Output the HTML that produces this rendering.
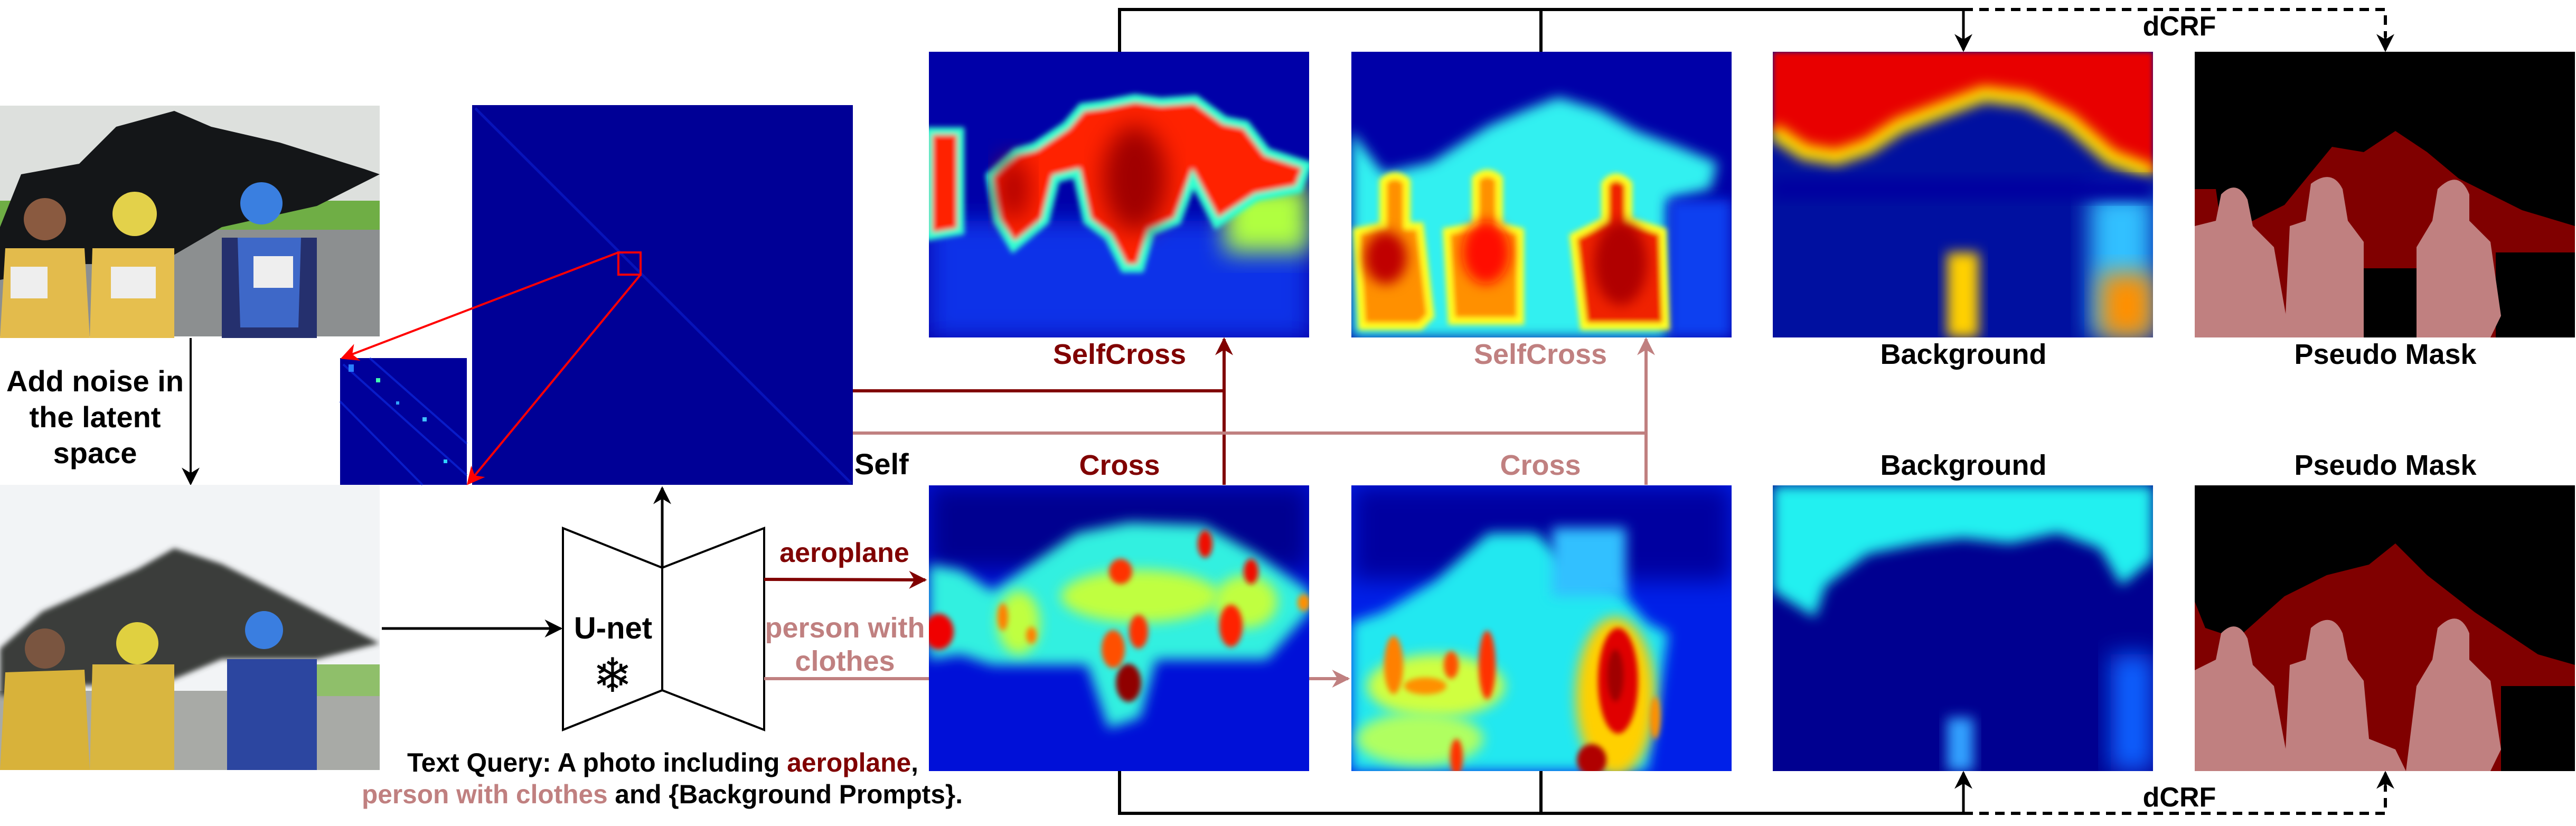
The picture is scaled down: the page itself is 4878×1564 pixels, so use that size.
<!DOCTYPE html>
<html><head><meta charset="utf-8"><style>
html,body{margin:0;padding:0;background:#fff;}
svg{display:block;}
text{font-family:"Liberation Sans",Arial,sans-serif;font-weight:bold;}
</style></head><body>
<svg width="4878" height="1564" viewBox="0 0 4878 1564" xmlns="http://www.w3.org/2000/svg">
<defs>
<filter id="b1" x="-30%" y="-30%" width="160%" height="160%"><feGaussianBlur stdDeviation="22"/></filter>
<filter id="b2" x="-30%" y="-30%" width="160%" height="160%"><feGaussianBlur stdDeviation="12"/></filter>
<filter id="b3" x="-30%" y="-30%" width="160%" height="160%"><feGaussianBlur stdDeviation="5"/></filter>
<marker id="akb" viewBox="0 0 10 10" markerWidth="34" markerHeight="34" refX="9" refY="5" orient="auto" markerUnits="userSpaceOnUse"><path d="M0,0 L10,5 L0,10 L3,5 z" fill="#000"/></marker>
<marker id="ar" viewBox="0 0 10 10" markerWidth="34" markerHeight="34" refX="9" refY="5" orient="auto" markerUnits="userSpaceOnUse"><path d="M0,0 L10,5 L0,10 L3,5 z" fill="#800000"/></marker>
<marker id="ap" viewBox="0 0 10 10" markerWidth="34" markerHeight="34" refX="9" refY="5" orient="auto" markerUnits="userSpaceOnUse"><path d="M0,0 L10,5 L0,10 L3,5 z" fill="#c08080"/></marker>
<marker id="arr" viewBox="0 0 10 10" markerWidth="34" markerHeight="34" refX="9" refY="5" orient="auto" markerUnits="userSpaceOnUse"><path d="M0,0 L10,5 L0,10 L3,5 z" fill="#f00"/></marker>
<clipPath id="c720"><rect x="0" y="0" width="720" height="541"/></clipPath>
<clipPath id="cph"><rect x="0" y="0" width="719" height="540"/></clipPath>
</defs>

<!-- Top photo -->
<g transform="translate(0,200)" clip-path="url(#cph)">
<rect width="719" height="437" fill="#dde0dd"/>
<rect y="180" width="719" height="60" fill="#6fae45"/>
<rect y="235" width="719" height="202" fill="#8c8f90"/>
<path d="M0,230 L40,130 L150,110 L220,40 L330,10 L400,40 L530,70 L690,120 L719,130 L600,190 L420,230 L300,300 L150,300 L0,330 z" fill="#141618"/>
<path d="M10,270 L160,270 L170,440 L0,440 z" fill="#e3bb4c"/>
<circle cx="85" cy="215" r="40" fill="#8a5a40"/>
<path d="M175,270 L330,270 L330,440 L170,440 z" fill="#e6bf4e"/>
<circle cx="255" cy="205" r="42" fill="#e3d14a"/>
<path d="M420,250 L600,250 L600,440 L420,440 z" fill="#25306e"/>
<path d="M450,250 L570,250 L565,420 L455,420 z" fill="#3e68c8"/>
<circle cx="495" cy="185" r="40" fill="#3a7fe0"/>
<rect x="20" y="305" width="70" height="60" fill="#eee"/><rect x="210" y="305" width="85" height="60" fill="#eee"/><rect x="480" y="285" width="75" height="60" fill="#eee"/>
</g>

<line x1="361" y1="640" x2="361" y2="916" stroke="#000" stroke-width="4" marker-end="url(#akb)"/>
<g font-size="56" text-anchor="middle" fill="#000">
<text x="180" y="741">Add noise in</text><text x="180" y="809">the latent</text><text x="180" y="877">space</text>
</g>

<!-- Noisy photo -->
<g transform="translate(0,918)" clip-path="url(#cph)">
<rect width="719" height="540" fill="#f2f4f6"/>
<rect y="390" width="719" height="150" fill="#a8aaa6"/>
<rect x="500" y="340" width="219" height="60" fill="#8fbf6a"/>
<path d="M0,310 L80,240 L260,160 L330,120 L420,150 L580,230 L719,300 L600,330 L420,330 L300,380 L150,380 L0,400 z" fill="#3a3e3a" filter="url(#b3)"/>
<path d="M10,355 L160,350 L170,540 L0,540 z" fill="#d8b23a"/>
<circle cx="85" cy="310" r="38" fill="#7a5540"/>
<path d="M175,340 L330,340 L330,540 L170,540 z" fill="#d9b640"/>
<circle cx="260" cy="300" r="40" fill="#e0d040"/>
<path d="M430,330 L600,330 L600,540 L430,540 z" fill="#2c46a0"/>
<circle cx="500" cy="275" r="36" fill="#3a7ee0"/>
</g>

<!-- inset -->
<g>
<rect x="644" y="678" width="240" height="240" fill="#00009a"/>
<g stroke="#1030e8" stroke-width="4" opacity="0.6">
<line x1="650" y1="690" x2="884" y2="900"/><line x1="700" y1="678" x2="884" y2="840"/><line x1="644" y1="760" x2="800" y2="918"/>
</g>
<rect x="712" y="716" width="8" height="8" fill="#40ffb0"/><rect x="660" y="690" width="10" height="14" fill="#2a80ff"/><rect x="800" y="790" width="8" height="8" fill="#40c0ff"/><rect x="840" y="870" width="7" height="7" fill="#30d0ff"/><rect x="750" y="760" width="6" height="6" fill="#30a0ff"/>
</g>

<!-- self attention matrix -->
<g>
<rect x="894" y="199" width="721" height="719" fill="#000096"/>
<line x1="900" y1="205" x2="1612" y2="915" stroke="#0a1cc8" stroke-width="5" opacity="0.7"/>
<rect x="1171" y="478" width="42" height="42" fill="none" stroke="#f00" stroke-width="4"/>
</g>
<line x1="1171" y1="478" x2="648" y2="678" stroke="#f00" stroke-width="4" marker-end="url(#arr)"/>
<line x1="1213" y1="520" x2="886" y2="916" stroke="#f00" stroke-width="4" marker-end="url(#arr)"/>
<text x="1618" y="898" font-size="56" fill="#000">Self</text>

<!-- U-net -->
<g fill="#fff" stroke="#000" stroke-width="4">
<path d="M1066,1000 L1254,1075 L1254,1307 L1066,1382 z"/>
<path d="M1447,1000 L1254,1075 L1254,1307 L1447,1382 z"/>
</g>
<text x="1161" y="1209" font-size="58" text-anchor="middle" fill="#000">U-net</text>
<text x="1160" y="1310" font-size="90" text-anchor="middle" fill="#000" style="font-family:'DejaVu Sans',sans-serif">❄</text>
<line x1="1254" y1="1075" x2="1254" y2="924" stroke="#000" stroke-width="5" marker-end="url(#akb)"/>
<line x1="723" y1="1190" x2="1062" y2="1190" stroke="#000" stroke-width="5" marker-end="url(#akb)"/>

<text x="1599" y="1064" font-size="52" text-anchor="middle" fill="#800000">aeroplane</text>
<line x1="1447" y1="1097" x2="1752" y2="1098" stroke="#800000" stroke-width="6" marker-end="url(#ar)"/>
<text x="1600" y="1207" font-size="54" text-anchor="middle" fill="#c08080">person with</text>
<text x="1600" y="1270" font-size="54" text-anchor="middle" fill="#c08080">clothes</text>
<line x1="1447" y1="1285" x2="2553" y2="1285" stroke="#c08080" stroke-width="6" marker-end="url(#ap)"/>

<text x="1255" y="1461" font-size="50" text-anchor="middle" fill="#000" textLength="968" lengthAdjust="spacingAndGlyphs">Text Query: A photo including <tspan fill="#800000">aeroplane</tspan>,</text>
<text x="1254" y="1521" font-size="50" text-anchor="middle" fill="#000" textLength="1138" lengthAdjust="spacingAndGlyphs"><tspan fill="#c08080">person with clothes</tspan> and {Background Prompts}.</text>

<!-- connections -->
<polyline points="1615,740 2318,740" fill="none" stroke="#800000" stroke-width="6"/>
<line x1="2318" y1="918" x2="2318" y2="642" stroke="#800000" stroke-width="6" marker-end="url(#ar)"/>
<polyline points="1615,820 3117,820" fill="none" stroke="#c08080" stroke-width="6"/>
<line x1="3117" y1="918" x2="3117" y2="642" stroke="#c08080" stroke-width="6" marker-end="url(#ap)"/>

<g stroke="#000" stroke-width="6" fill="none">
<polyline points="2120,98 2120,18 3718,18"/><line x1="2918" y1="18" x2="2918" y2="98"/>
<polyline points="2120,1460 2120,1540 3718,1540"/><line x1="2918" y1="1540" x2="2918" y2="1460"/>
</g>
<line x1="3718" y1="18" x2="3718" y2="95" stroke="#000" stroke-width="5" marker-end="url(#akb)"/>
<line x1="3718" y1="1540" x2="3718" y2="1463" stroke="#000" stroke-width="5" marker-end="url(#akb)"/>
<g stroke="#000" stroke-width="6" fill="none" stroke-dasharray="18,12">
<polyline points="3718,18 4517,18 4517,70"/>
<polyline points="3718,1540 4517,1540 4517,1488"/>
</g>
<line x1="4517" y1="60" x2="4517" y2="95" stroke="#000" stroke-width="5" marker-end="url(#akb)"/>
<line x1="4517" y1="1498" x2="4517" y2="1463" stroke="#000" stroke-width="5" marker-end="url(#akb)"/>
<text x="4127" y="67" font-size="52" text-anchor="middle" fill="#000">dCRF</text>
<text x="4127" y="1527" font-size="52" text-anchor="middle" fill="#000">dCRF</text>

<g font-size="54" text-anchor="middle">
<text x="2120" y="689" fill="#800000">SelfCross</text>
<text x="2917" y="689" fill="#c08080">SelfCross</text>
<text x="3718" y="689" fill="#000">Background</text>
<text x="4517" y="689" fill="#000">Pseudo Mask</text>
<text x="2120" y="899" fill="#800000">Cross</text>
<text x="2917" y="899" fill="#c08080">Cross</text>
<text x="3718" y="899" fill="#000">Background</text>
<text x="4517" y="899" fill="#000">Pseudo Mask</text>
</g>

<!-- heatmap 1 top: selfcross aeroplane -->
<g transform="translate(1759,98)" clip-path="url(#c720)">
<rect width="720" height="541" fill="#0000a8"/>
<rect y="320" width="720" height="221" fill="#0a30e8" filter="url(#b1)"/>
<rect x="560" y="250" width="160" height="130" fill="#b0ff40" filter="url(#b1)"/>
<path d="M0,150 L60,150 L60,340 L0,350 z" fill="#ff2000" filter="url(#b3)" stroke="#30ffd0" stroke-width="14"/>
<path d="M116,235 L165,190 L200,180 L260,140 L290,105 L330,100 L390,88 L440,95 L505,90 L560,130 L600,138 L640,190 L717,215 L700,260 L620,275 L545,325 L500,240 L470,320 L420,340 L400,410 L370,410 L340,350 L300,320 L280,230 L240,240 L220,320 L160,370 L130,320 z" fill="#ff2000" stroke="#30ffd0" stroke-width="16" filter="url(#b3)"/>
<ellipse cx="390" cy="240" rx="60" ry="100" fill="#a00000" filter="url(#b1)"/>
<ellipse cx="160" cy="260" rx="30" ry="60" fill="#b00000" filter="url(#b1)"/>
</g>

<!-- heatmap 2 top: selfcross person -->
<g transform="translate(2559,98)" clip-path="url(#c720)">
<rect width="720" height="541" fill="#0000a8"/>
<path d="M0,150 L60,230 L150,210 L260,140 L330,110 L392,86 L470,110 L540,150 L620,180 L693,210 L680,260 L600,280 L600,541 L0,541 z" fill="#30f0f0" filter="url(#b2)"/>
<rect x="600" y="280" width="120" height="261" fill="#0a40f0" filter="url(#b2)"/>
<g stroke="#ffff20" stroke-width="14" filter="url(#b3)">
<path d="M60,245 Q82,225 105,245 L105,330 L130,330 L150,500 L130,520 L20,520 L10,340 L60,330 z" fill="#ff9000"/>
<path d="M235,240 Q257,220 280,240 L280,330 L320,340 L320,510 L190,510 L180,340 L235,330 z" fill="#ff9000"/>
<path d="M480,250 Q500,225 525,250 L525,320 L590,340 L596,520 L440,520 L420,350 L480,320 z" fill="#f02000"/>
</g>
<ellipse cx="65" cy="390" rx="40" ry="50" fill="#c00000" filter="url(#b2)"/>
<ellipse cx="255" cy="380" rx="45" ry="60" fill="#ff1000" filter="url(#b2)"/>
<ellipse cx="510" cy="400" rx="50" ry="80" fill="#b00000" filter="url(#b2)"/>
</g>

<!-- heatmap 3 top: background -->
<g transform="translate(3357,98)" clip-path="url(#c720)">
<rect width="720" height="541" fill="#0010a0"/>
<path d="M0,0 L720,0 L720,230 L640,200 L560,130 L480,90 L400,80 L320,110 L240,140 L180,180 L120,200 L60,190 L0,150 z" fill="#e80000" filter="url(#b3)"/>
<path d="M0,150 L60,190 L120,200 L180,180 L240,140 L320,110 L400,80 L480,90 L560,130 L640,200 L720,230" fill="none" stroke="#ffe000" stroke-width="30" filter="url(#b2)"/>
<rect x="600" y="270" width="120" height="271" fill="#30c0ff" filter="url(#b1)"/>
<rect x="620" y="420" width="100" height="121" fill="#ff9000" filter="url(#b1)"/>
<rect x="330" y="380" width="60" height="161" fill="#ffd000" filter="url(#b2)"/>
<rect x="0" y="240" width="720" height="40" fill="#0000a0" filter="url(#b2)"/>
</g>

<!-- mask top -->
<g transform="translate(4156,98)" clip-path="url(#c720)">
<rect width="720" height="541" fill="#000"/>
<path d="M0,260 L40,260 L50,330 L110,320 L170,290 L260,180 L320,190 L380,150 L440,190 L500,240 L620,300 L720,330 L720,550 L0,550 z" fill="#800000"/>
<rect x="570" y="380" width="150" height="161" fill="#000"/>
<rect x="320" y="410" width="100" height="131" fill="#000"/>
<path d="M50,270 Q80,240 100,280 L110,330 L150,370 L180,541 L0,541 L0,330 L40,320 z" fill="#c08080"/>
<path d="M220,250 Q260,220 280,260 L290,320 L320,360 L320,541 L170,541 L180,330 L210,320 z" fill="#c08080"/>
<path d="M460,260 Q500,220 520,270 L520,320 L560,360 L580,500 L560,541 L420,541 L420,370 L450,320 z" fill="#c08080"/>
</g>

<!-- heatmap 1 bottom: cross aeroplane -->
<g transform="translate(1759,919)" clip-path="url(#c720)">
<rect width="720" height="541" fill="#0010d8"/>
<rect width="720" height="160" fill="#000090" filter="url(#b1)"/>
<path d="M0,150 L60,160 L120,200 L280,90 L380,70 L520,75 L620,130 L720,200 L720,240 L640,330 L560,330 L430,330 L400,440 L340,460 L300,340 L180,340 L120,340 L60,320 L0,330 z" fill="#30f0e0" filter="url(#b2)"/>
<ellipse cx="400" cy="210" rx="150" ry="50" fill="#c0ff40" filter="url(#b2)"/>
<ellipse cx="170" cy="260" rx="40" ry="60" fill="#c0ff40" filter="url(#b2)"/>
<ellipse cx="600" cy="220" rx="60" ry="50" fill="#c0ff40" filter="url(#b2)"/>
<g filter="url(#b3)">
<ellipse cx="523" cy="111" rx="14" ry="26" fill="#f01000"/>
<ellipse cx="363" cy="163" rx="22" ry="24" fill="#ff3000"/>
<ellipse cx="610" cy="163" rx="14" ry="24" fill="#f01000"/>
<ellipse cx="19" cy="277" rx="28" ry="34" fill="#f00000"/>
<ellipse cx="572" cy="266" rx="22" ry="40" fill="#ff2000"/>
<ellipse cx="378" cy="374" rx="24" ry="36" fill="#900000"/>
<ellipse cx="397" cy="277" rx="18" ry="32" fill="#ff3000"/>
<ellipse cx="349" cy="310" rx="22" ry="36" fill="#ff5000"/>
<ellipse cx="140" cy="249" rx="10" ry="26" fill="#ff8000"/>
<ellipse cx="194" cy="284" rx="10" ry="16" fill="#ff8000"/>
<ellipse cx="710" cy="222" rx="12" ry="16" fill="#ff9000"/>
</g>
</g>

<!-- heatmap 2 bottom: cross person -->
<g transform="translate(2559,919)" clip-path="url(#c720)">
<rect width="720" height="541" fill="#0020e8"/>
<rect width="720" height="180" fill="#0000a0" filter="url(#b1)"/>
<path d="M0,260 L60,240 L160,180 L260,90 L350,90 L420,160 L500,190 L560,260 L600,280 L560,541 L0,541 z" fill="#20e8f0" filter="url(#b2)"/>
<rect x="380" y="80" width="140" height="130" fill="#30c0ff" filter="url(#b2)"/>
<ellipse cx="160" cy="380" rx="130" ry="60" fill="#d0ff40" filter="url(#b2)"/>
<ellipse cx="130" cy="480" rx="120" ry="50" fill="#b0ff60" filter="url(#b2)"/>
<ellipse cx="500" cy="400" rx="75" ry="150" fill="#ffd000" filter="url(#b2)"/>
<g filter="url(#b3)">
<ellipse cx="80" cy="340" rx="18" ry="55" fill="#ff8000"/>
<ellipse cx="257" cy="340" rx="16" ry="65" fill="#ff3000"/>
<ellipse cx="189" cy="340" rx="14" ry="26" fill="#ff5000"/>
<ellipse cx="140" cy="380" rx="40" ry="16" fill="#ff9000"/>
<ellipse cx="505" cy="370" rx="38" ry="100" fill="#e00000"/>
<ellipse cx="500" cy="360" rx="16" ry="50" fill="#a00000"/>
<ellipse cx="455" cy="520" rx="28" ry="30" fill="#b00000"/>
<ellipse cx="199" cy="515" rx="12" ry="35" fill="#ff3000"/>
<ellipse cx="575" cy="440" rx="10" ry="40" fill="#ff9000"/>
</g>
</g>

<!-- heatmap 3 bottom: background -->
<g transform="translate(3357,919)" clip-path="url(#c720)">
<rect width="720" height="541" fill="#000090"/>
<path d="M0,0 L720,0 L720,140 L660,190 L620,120 L540,90 L450,110 L360,100 L280,110 L180,130 L100,190 L80,250 L0,200 z" fill="#20f0f0" filter="url(#b2)"/>
<rect x="640" y="320" width="80" height="221" fill="#1060ff" filter="url(#b1)"/>
<rect x="330" y="440" width="50" height="101" fill="#30a0ff" filter="url(#b2)"/>
</g>

<!-- mask bottom -->
<g transform="translate(4156,919)" clip-path="url(#c720)">
<rect width="720" height="541" fill="#000"/>
<path d="M0,220 L20,270 L80,290 L170,210 L250,170 L330,150 L380,110 L440,170 L530,240 L650,320 L720,340 L720,550 L0,550 z" fill="#800000"/>
<rect x="580" y="380" width="140" height="161" fill="#000"/>
<path d="M50,280 Q80,250 100,290 L110,340 L150,380 L180,541 L0,541 L0,350 L40,330 z" fill="#c08080"/>
<path d="M220,270 Q260,235 280,280 L290,330 L320,370 L330,480 L380,500 L400,541 L170,541 L180,340 L210,330 z" fill="#c08080"/>
<path d="M460,270 Q500,230 520,280 L520,330 L560,370 L580,500 L560,541 L400,541 L420,380 L450,330 z" fill="#c08080"/>
</g>
</svg>
</body></html>
